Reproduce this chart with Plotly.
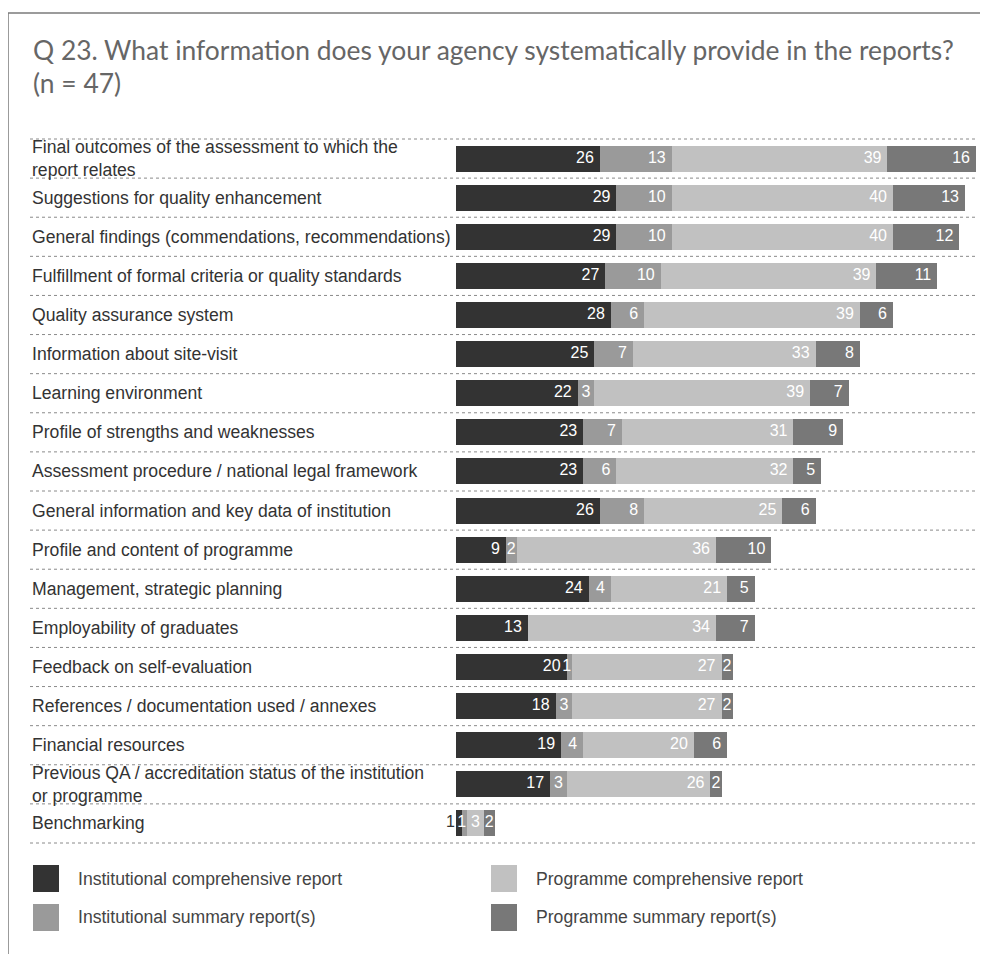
import plotly.graph_objects as go

categories = [
    "Final outcomes of the assessment to which the<br>report relates",
    "Suggestions for quality enhancement",
    "General findings (commendations, recommendations)",
    "Fulfillment of formal criteria or quality standards",
    "Quality assurance system",
    "Information about site-visit",
    "Learning environment",
    "Profile of strengths and weaknesses",
    "Assessment procedure / national legal framework",
    "General information and key data of institution",
    "Profile and content of programme",
    "Management, strategic planning",
    "Employability of graduates",
    "Feedback on self-evaluation",
    "References / documentation used / annexes",
    "Financial resources",
    "Previous QA / accreditation status of the institution<br>or programme",
    "Benchmarking",
]

inst_comprehensive = [26, 29, 29, 27, 28, 25, 22, 23, 23, 26, 9, 24, 13, 20, 18, 19, 17, 1]
inst_summary       = [13, 10, 10, 10, 6, 7, 3, 7, 6, 8, 2, 4, 0, 1, 3, 4, 3, 1]
prog_comprehensive = [39, 40, 40, 39, 39, 33, 39, 31, 32, 25, 36, 21, 34, 27, 27, 20, 26, 3]
prog_summary       = [16, 13, 12, 11, 6, 8, 7, 9, 5, 6, 10, 5, 7, 2, 2, 6, 2, 2]

series_names = [
    "Institutional comprehensive report",
    "Institutional summary report(s)",
    "Programme comprehensive report",
    "Programme summary report(s)",
]
series_values = [inst_comprehensive, inst_summary, prog_comprehensive, prog_summary]
colors = ["#333333", "#9a9a9a", "#c1c1c1", "#787878"]

title_line1 = "Q 23. What information does your agency systematically provide in the reports?"
title_line2 = "(n = 47)"

# ---- layout geometry (pixels, as seen on the page) ----
OFF = 8                      # page body margin
FIG_W, FIG_H = 988 - OFF, 954 - OFF
X0_PX = 456                  # pixel where value 0 sits
L, R, T, B = 436, 978, 139, 843   # plot area
PW, PH = R - L, B - T
PX_PER_UNIT = 520 / 94.0
x_min = -(X0_PX - L) / PX_PER_UNIT
x_max = (R - X0_PX) / PX_PER_UNIT

LABEL_FONT = "Liberation Sans, Arial, sans-serif"
LABEL_SIZE = 17.6
VAL_SIZE = 16
DIGIT_W = 0.556 * VAL_SIZE


def fx(px):
    return (px - L) / PW


def fy(py):
    return (B - py) / PH


n = len(categories)
idx = list(range(n))

fig = go.Figure()

# stacked bars
for name, vals, col in zip(series_names, series_values, colors):
    fig.add_trace(go.Bar(
        y=idx, x=vals, orientation="h", name=name,
        marker=dict(color=col, line=dict(width=0)),
        hoverinfo="x+name", showlegend=False,
    ))

# value labels, right-aligned near each segment's end
cum = [0] * n
for s, (name, vals) in enumerate(zip(series_names, series_values)):
    xs, texts, tcolors = [], [], []
    for i, v in enumerate(vals):
        start = cum[i]
        cum[i] += v
        w = v * PX_PER_UNIT
        tw = DIGIT_W * len(str(v))
        if s == 0 and w < tw:
            xs.append(start - 1 / PX_PER_UNIT)
            tcolors.append("#333333")
        else:
            pad = min(6.0, max(1.0, (w - tw) / 2))
            xs.append(cum[i] - pad / PX_PER_UNIT)
            tcolors.append("#ffffff")
        texts.append(str(v) if v > 0 else "")
    fig.add_trace(go.Scatter(
        y=idx, x=xs, mode="text", text=texts,
        textposition="middle left", cliponaxis=False,
        textfont=dict(family=LABEL_FONT, size=VAL_SIZE, color=tcolors),
        hoverinfo="skip", showlegend=False,
    ))

shapes = []
annotations = []

# dotted row separators
for i in range(n + 1):
    yy = 1 - i / n
    shapes.append(dict(type="line", xref="paper", yref="paper",
                       x0=fx(30), x1=fx(978), y0=yy, y1=yy,
                       line=dict(color="#8a8a8a", width=1, dash="dot")))

# frame lines (top and left)
shapes.append(dict(type="line", xref="paper", yref="paper",
                   x0=fx(8), x1=fx(990), y0=fy(13), y1=fy(13),
                   line=dict(color="#7a7a7a", width=1.5)))
shapes.append(dict(type="line", xref="paper", yref="paper",
                   x0=fx(8), x1=fx(8), y0=fy(13), y1=fy(960),
                   line=dict(color="#7a7a7a", width=1.5)))

# category labels
for i, c in enumerate(categories):
    annotations.append(dict(
        x=fx(30), xref="paper", xanchor="left",
        y=i, yref="y", yanchor="middle",
        text=c, showarrow=False, align="left",
        font=dict(family=LABEL_FONT, size=LABEL_SIZE, color="#333333"),
    ))

# title
annotations.append(dict(x=fx(31), xref="paper", xanchor="left", y=fy(50), yref="paper",
                        yanchor="middle", text=title_line1, showarrow=False,
                        font=dict(family="Lato, sans-serif", size=26.4, color="#666666")))
annotations.append(dict(x=fx(31), xref="paper", xanchor="left", y=fy(83), yref="paper",
                        yanchor="middle", text=title_line2, showarrow=False,
                        font=dict(family="Lato, sans-serif", size=26.4, color="#666666")))

# custom legend
legend_pos = [(33, 865), (33, 904), (491, 865), (491, 904)]
for k, (px, py) in enumerate(legend_pos):
    shapes.append(dict(type="rect", xref="paper", yref="paper",
                       x0=fx(px), x1=fx(px + 26), y0=fy(py), y1=fy(py + 27),
                       fillcolor=colors[k], line=dict(width=0)))
    annotations.append(dict(x=fx(px + 43), xref="paper", xanchor="left",
                            y=fy(py + 13.5), yref="paper", yanchor="middle",
                            text=series_names[k], showarrow=False,
                            font=dict(family=LABEL_FONT, size=LABEL_SIZE, color="#444444")))

fig.update_layout(
    width=FIG_W, height=FIG_H,
    margin=dict(l=L - OFF, r=FIG_W - (R - OFF), t=T - OFF, b=FIG_H - (B - OFF), pad=0),
    barmode="stack", bargap=0.335,
    plot_bgcolor="rgba(0,0,0,0)", paper_bgcolor="white",
    xaxis=dict(range=[x_min, x_max], showgrid=False, zeroline=False,
               showticklabels=False, showline=False, fixedrange=True),
    yaxis=dict(range=[n - 0.5, -0.5], showgrid=False, zeroline=False,
               showticklabels=False, showline=False, fixedrange=True),
    shapes=shapes, annotations=annotations,
    showlegend=False,
)

fig.write_html("out.html")
